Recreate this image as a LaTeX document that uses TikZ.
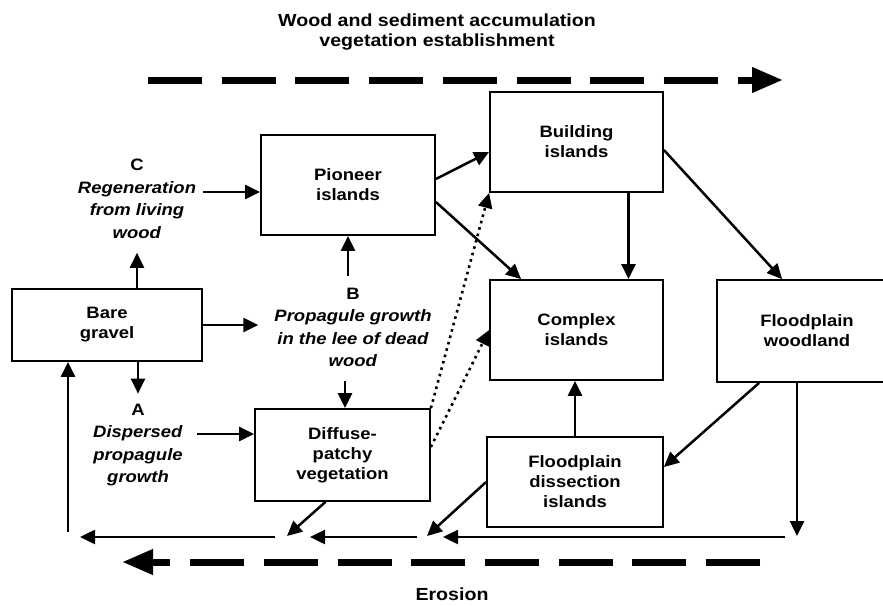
\documentclass[tikz,border=0pt]{standalone}
\usepackage{fontspec}
\setmainfont{Liberation Sans}[FakeStretch=1.12]
\usetikzlibrary{arrows.meta}

\newcommand\bxfont{\bfseries\fontsize{16.5}{20}\selectfont}
\newcommand\lbfont{\bfseries\fontsize{16.5}{22.5}\selectfont}
\newcommand\ttlfont{\bfseries\fontsize{17.5}{20}\selectfont}

\begin{document}
\begin{tikzpicture}[x=1pt,y=-1pt,
  box/.style={draw, line width=1.8pt, rectangle, inner sep=0pt, align=center, font=\bxfont},
  lab/.style={align=center, inner sep=2pt, font=\lbfont},
  ttl/.style={align=center, inner sep=0pt, font=\ttlfont},
  arr/.style={line width=2.5pt, -{Triangle[length=15pt,width=14pt]}},
  dotarr/.style={line width=2.6pt, dash pattern=on 2.6pt off 4pt, -{Triangle[length=15pt,width=14pt]}},
  bigarr/.style={line width=7pt, dash pattern=on 54pt off 19.7pt, -{Triangle[length=31pt,width=24pt]}},
]
\useasboundingbox (0,0) rectangle (883,605);
\fill[white] (0,0) rectangle (883,605);
\clip (0,0) rectangle (883,605);

% process boxes
\node[box, minimum width=190pt, minimum height=72pt]  (bare)    at (107,325)   {Bare\\gravel};
\node[box, minimum width=174pt, minimum height=100pt] (pioneer) at (348,185)   {Pioneer\\islands};
\node[box, minimum width=173pt, minimum height=100pt] (build)   at (576.5,142) {Building\\islands};
\node[box, minimum width=173pt, minimum height=100pt] (complex) at (576.5,330) {Complex\\islands};
\node[box, minimum width=180pt, minimum height=102pt] (wood)    at (807,331)   {Floodplain\\woodland};
\node[box, minimum width=175pt, minimum height=92pt]  (diffuse) at (342.5,455) {Diffuse-\\patchy\\vegetation};
\node[box, minimum width=176pt, minimum height=90pt]  (dissect) at (575,482)   {Floodplain\\dissection\\islands};

% pathway labels
\node[lab] (labC) at (137,199)   {C\\\textit{Regeneration}\\\textit{from living}\\\textit{wood}};
\node[lab] (labB) at (353,327.5) {B\\\textit{Propagule growth}\\\textit{in the lee of dead}\\\textit{wood}};
\node[lab] (labA) at (138,445)   {A\\\textit{Dispersed}\\\textit{propagule}\\\textit{growth}};

% headings
\node[ttl] (title) at (437,32) {Wood and sediment accumulation\\vegetation establishment};
\node[ttl] (eros)  at (452,594) {Erosion};

% free ends on the erosion line
\coordinate (wEnd) at (797,536);
\coordinate (r1) at (785,537);
\coordinate (r2) at (443,537);
\coordinate (m1) at (417,537);
\coordinate (m2) at (310,537);
\coordinate (l1) at (275,537);
\coordinate (l2) at (80,537);
\coordinate (up) at (68,532);
\coordinate (dR) at (427,536);
\coordinate (dL) at (287,536);

% broad trend arrows
\coordinate (t1) at (148,80);
\coordinate (t2) at (783,80);
\coordinate (b1) at (760,562);
\coordinate (b2) at (122,562);
\draw[bigarr] (t1) -- (t2);
\draw[bigarr] (b1) -- (b2);

% colonisation pathways
\draw[arr, shorten >=12pt] (labC.south |- bare.north) -- (labC.south);
\draw[arr, shorten <=5pt] ([yshift=-7pt]pioneer.west -| labC.east) -- ([yshift=-7pt]pioneer.west);
\draw[arr, shorten >=14pt] (bare.east) -- (labB.west |- bare.east);
\draw[arr, shorten <=10pt] ([xshift=-5pt]labB.north) -- ([xshift=-5pt]labB.north |- pioneer.south);
\draw[arr, shorten <=12pt] ([xshift=-8pt]labB.south) -- ([xshift=-8pt]labB.south |- diffuse.north);
\draw[arr, shorten >=8pt] (labA.north |- bare.south) -- (labA.north);
\draw[arr, shorten <=12pt] ([yshift=21pt]diffuse.west -| labA.east) -- ([yshift=21pt]diffuse.west);

% island development
\draw[arr] ([yshift=6pt]pioneer.east) -- ([yshift=-10pt]build.west);
\draw[arr] ([yshift=-17pt]pioneer.east) -- ([xshift=32pt]complex.north west);
\draw[dotarr] (diffuse.north east) -- (build.south west);
\draw[dotarr] ([yshift=8pt]diffuse.east) -- (complex.west);
\draw[arr] ([xshift=52pt]build.south) -- ([xshift=52pt]build.south |- complex.north);
\draw[arr] ([yshift=-8pt]build.east) -- ([xshift=66pt]wood.north west);
\draw[arr] ([xshift=43pt]wood.south west) -- ([yshift=15pt]dissect.east);
\draw[arr] (dissect.north) -- (dissect.north |- complex.south);

% erosion returns
\draw[arr] ([xshift=-10pt]wood.south) -- (wEnd);
\draw[arr] (r1) -- (r2);
\draw[arr] (m1) -- (m2);
\draw[arr] (l1) -- (l2);
\draw[arr] (up) -- (up |- bare.south);
\draw[arr] (dissect.west) -- (dR);
\draw[arr] ([xshift=-17pt]diffuse.south) -- (dL);
\end{tikzpicture}
\end{document}
